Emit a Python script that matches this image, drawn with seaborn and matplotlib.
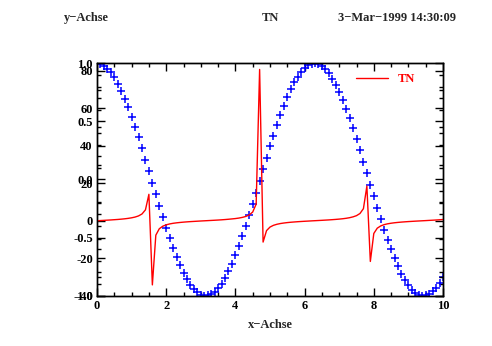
import matplotlib
matplotlib.use("Agg")
import matplotlib.pyplot as plt
import seaborn as sns
import pandas as pd
from matplotlib.ticker import MultipleLocator

x_values = [round(i * 0.1, 1) for i in range(101)]

cos_values = [
    1.000, 0.995, 0.980, 0.955, 0.921, 0.878, 0.825, 0.765, 0.697, 0.622,
    0.540, 0.454, 0.362, 0.267, 0.170, 0.071, -0.029, -0.129, -0.227, -0.323,
    -0.416, -0.505, -0.589, -0.666, -0.737, -0.801, -0.857, -0.904, -0.942, -0.971,
    -0.990, -0.999, -0.998, -0.987, -0.967, -0.936, -0.897, -0.848, -0.791, -0.726,
    -0.654, -0.575, -0.490, -0.401, -0.307, -0.211, -0.112, -0.012, 0.087, 0.186,
    0.284, 0.378, 0.469, 0.554, 0.635, 0.709, 0.776, 0.835, 0.886, 0.927,
    0.960, 0.983, 0.997, 1.000, 0.993, 0.977, 0.950, 0.914, 0.869, 0.815,
    0.754, 0.685, 0.608, 0.526, 0.439, 0.347, 0.252, 0.154, 0.054, -0.046,
    -0.146, -0.244, -0.340, -0.432, -0.519, -0.602, -0.678, -0.748, -0.811, -0.865,
    -0.911, -0.948, -0.975, -0.993, -1.000, -0.997, -0.984, -0.962, -0.930, -0.889,
    -0.839,
]

tn_values = [
    0.00, 0.10, 0.20, 0.31, 0.42, 0.55, 0.68, 0.84, 1.03, 1.26,
    1.56, 1.96, 2.57, 3.60, 5.80, 14.10, -34.23, -7.70, -4.29, -2.93,
    -2.19, -1.71, -1.37, -1.12, -0.92, -0.75, -0.60, -0.47, -0.36, -0.25,
    -0.14, -0.04, 0.06, 0.16, 0.26, 0.37, 0.49, 0.63, 0.79, 0.97,
    1.16, 1.42, 1.78, 2.28, 3.10, 4.64, 8.86, 80.71, -11.38, -5.27,
    -3.38, -2.45, -1.89, -1.50, -1.22, -0.99, -0.81, -0.66, -0.52, -0.40,
    -0.29, -0.19, -0.08, 0.02, 0.12, 0.22, 0.33, 0.44, 0.57, 0.71,
    0.87, 1.06, 1.30, 1.62, 2.07, 2.71, 3.85, 6.44, 18.50, -21.72,
    -6.80, -3.97, -2.77, -2.08, -1.64, -1.33, -1.08, -0.89, -0.72, -0.58,
    -0.45, -0.34, -0.23, -0.13, -0.03, 0.07, 0.18, 0.28, 0.39, 0.51,
    0.65,
]

x_ticks = [0, 2, 4, 6, 8, 10]
y1_ticks = [-1.0, -0.5, 0.0, 0.5, 1.0]
y2_ticks = [-40, -20, 0, 20, 40, 60, 80]

sns.set_style("white")
plt.rcParams["font.family"] = ["Liberation Serif", "DejaVu Serif"]
plt.rcParams["font.weight"] = "bold"

df = pd.DataFrame({"x": x_values, "cos": cos_values, "tn": tn_values})

fig = plt.figure(figsize=(4.92, 3.46), dpi=100)
ax = fig.add_axes([97 / 492, 1 - 295.7 / 346, 346 / 492, 232.4 / 346])
ax2 = ax.twinx()

sns.scatterplot(data=df, x="x", y="cos", ax=ax, marker="+", color="blue",
                s=30, linewidth=1.1, legend=False)
sns.lineplot(data=df, x="x", y="tn", ax=ax2, color="red", linewidth=1.0,
             label="TN", estimator=None, sort=False)

ax.set_xlim(0, 10)
ax.set_ylim(-1.0, 1.0)
ax2.set_ylim(-40, 84)

for a in (ax, ax2):
    for s in a.spines.values():
        s.set_color("black")
        s.set_linewidth(1.0)

ax.set_xticks(x_ticks)
ax.set_xticklabels([str(t) for t in x_ticks])
ax.xaxis.set_minor_locator(MultipleLocator(0.5))
ax.set_yticks(y1_ticks)
ax.set_yticklabels(["-1.0", "-0.5", "0.0", "0.5", "1.0"])
ax.yaxis.set_minor_locator(MultipleLocator(0.1))
ax.tick_params(axis="both", which="both", direction="in", top=True, right=True,
               left=True, bottom=True, labelsize=9, pad=3, colors="black")
ax.tick_params(which="major", length=6, width=1)
ax.tick_params(which="minor", length=3, width=1)

ax2.set_yticks(y2_ticks)
ax2.set_yticklabels([str(t) for t in y2_ticks])
ax2.yaxis.set_minor_locator(MultipleLocator(10))
ax2.tick_params(axis="y", which="both", direction="in", left=True, right=True,
                labelleft=True, labelright=False, labelsize=9, pad=3, colors="black")
ax2.tick_params(which="major", length=6, width=1)
ax2.tick_params(which="minor", length=3, width=1)

for lab in ax.get_xticklabels() + ax.get_yticklabels() + ax2.get_yticklabels():
    lab.set_fontweight("bold")

ax.set_xlabel("")
ax.set_ylabel("")
ax2.set_ylabel("")

leg = ax2.legend(loc="upper left", bbox_to_anchor=(0.715, 1.005), frameon=False,
                 handlelength=2.6, handletextpad=0.8,
                 prop={"weight": "bold", "size": 9})
for t in leg.get_texts():
    t.set_color("red")

fig.text(86 / 492, 1 - 18 / 346, "y\u2212Achse", ha="center", va="center",
         fontsize=9, fontweight="bold")
fig.text(270 / 492, 1 - 18 / 346, "TN", ha="center", va="center",
         fontsize=9, fontweight="bold")
fig.text(397 / 492, 1 - 18 / 346, "3\u2212Mar\u22121999 14:30:09", ha="center",
         va="center", fontsize=9, fontweight="bold")
fig.text(270 / 492, 1 - 325 / 346, "x\u2212Achse", ha="center", va="center",
         fontsize=9, fontweight="bold")

fig.savefig("out.png", dpi=100, facecolor="white")
